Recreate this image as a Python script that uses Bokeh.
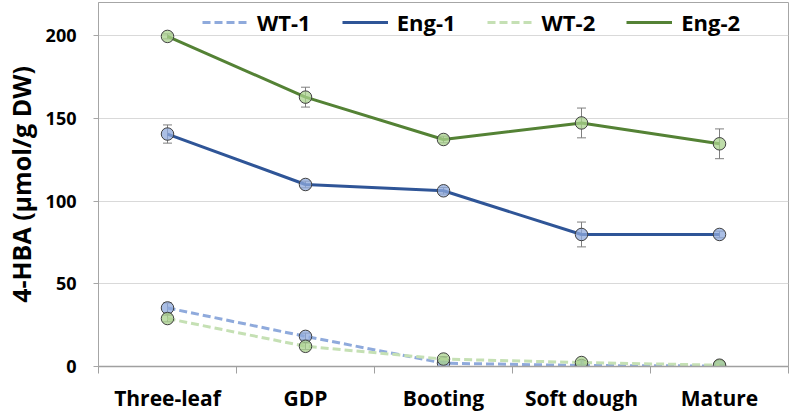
from bokeh.plotting import figure
from bokeh.models import (Range1d, FixedTicker, ColumnDataSource, Whisker, TeeHead,
                          Legend, LegendItem)
from bokeh.embed import file_html
from bokeh.resources import INLINE

stages = ["Three-leaf", "GDP", "Booting", "Soft dough", "Mature"]
wt1 = [35.4, 18.2, 2.0, 0.6, 0.3]
wt1_err = [3.0, 2.0, 1.0, 0.5, 0.3]
eng1 = [140.5, 110.0, 106.2, 79.8, 79.8]
eng1_err = [5.5, 2.0, 2.0, 7.5, 2.0]
wt2 = [29.0, 12.2, 4.5, 2.4, 0.8]
wt2_err = [2.0, 2.0, 1.5, 1.0, 0.5]
eng2 = [199.5, 162.8, 137.2, 147.2, 134.6]
eng2_err = [1.5, 6.0, 2.0, 9.0, 9.0]

y_ticks = [0, 50, 100, 150, 200]

FONT = "Open Sans"
xs = [i + 0.5 for i in range(len(stages))]

p = figure(width=790, height=414, output_backend="svg", toolbar_location=None,
           x_range=Range1d(0, len(stages)), y_range=Range1d(0, 220),
           min_border_left=96, min_border_right=2, min_border_top=2, min_border_bottom=48)
p.background_fill_color = "white"
p.border_fill_color = "white"
p.outline_line_color = "#A6A6A6"
p.outline_line_width = 1

p.xgrid.visible = False
p.ygrid.grid_line_color = "#D9D9D9"
p.ygrid.ticker = FixedTicker(ticks=y_ticks)

p.yaxis.ticker = FixedTicker(ticks=y_ticks)
p.yaxis.axis_label = "4-HBA (µmol/g DW)"
p.yaxis.axis_label_text_font = FONT
p.yaxis.axis_label_text_font_style = "bold"
p.yaxis.axis_label_text_font_size = "25px"
p.yaxis.axis_label_text_color = "black"
p.yaxis.axis_label_standoff = 5
p.yaxis.major_label_text_font = FONT
p.yaxis.major_label_text_font_style = "bold"
p.yaxis.major_label_text_font_size = "18px"
p.yaxis.major_label_text_color = "black"
p.yaxis.major_label_standoff = 17
p.yaxis.major_tick_line_color = "#A6A6A6"
p.yaxis.major_tick_in = 0
p.yaxis.major_tick_out = 5
p.yaxis.minor_tick_line_color = None
p.yaxis.axis_line_color = "#A6A6A6"

p.xaxis.ticker = FixedTicker(ticks=xs, minor_ticks=list(range(len(stages) + 1)))
p.xaxis.major_label_overrides = {x: s for x, s in zip(xs, stages)}
p.xaxis.major_label_text_font = FONT
p.xaxis.major_label_text_font_style = "bold"
p.xaxis.major_label_text_font_size = "21px"
p.xaxis.major_label_text_color = "black"
p.xaxis.major_label_standoff = 10
p.xaxis.major_tick_line_color = None
p.xaxis.minor_tick_line_color = "#A0A0A0"
p.xaxis.minor_tick_in = 0
p.xaxis.minor_tick_out = 7
p.xaxis.axis_line_color = "#A0A0A0"
p.xaxis.axis_line_width = 1.5

series = [
    ("WT-1", wt1, wt1_err, "#8FAADC", "#8FAADC", "8 4"),
    ("Eng-1", eng1, eng1_err, "#2F5597", "#8FAADC", "solid"),
    ("WT-2", wt2, wt2_err, "#C5E0B4", "#A9D18E", "8 4"),
    ("Eng-2", eng2, eng2_err, "#548235", "#A9D18E", "solid"),
]

items = []
for name, vals, errs, lc, fc, dash in series:
    src = ColumnDataSource(dict(x=xs, y=vals,
                                lo=[v - e for v, e in zip(vals, errs)],
                                hi=[v + e for v, e in zip(vals, errs)]))
    r = p.line("x", "y", source=src, line_color=lc, line_width=3, line_dash=dash)
    w = Whisker(source=src, base="x", lower="lo", upper="hi", dimension="height",
                line_color="#7F7F7F", line_width=1,
                upper_head=TeeHead(size=9, line_color="#7F7F7F", line_width=1),
                lower_head=TeeHead(size=9, line_color="#7F7F7F", line_width=1))
    p.add_layout(w)
    p.scatter("x", "y", source=src, size=12.5, marker="circle", fill_color=fc,
              fill_alpha=0.75, line_color="#404040", line_width=1)
    items.append(LegendItem(label=name, renderers=[r]))

legend = Legend(items=items, orientation="horizontal", location=(104, 329),
                label_text_font=FONT, label_text_font_style="bold",
                label_text_font_size="22px", label_text_color="black",
                glyph_width=46, glyph_height=24, label_standoff=9, spacing=31,
                padding=0, margin=0, border_line_alpha=0, background_fill_alpha=0)
p.add_layout(legend)

open("out.html", "w").write(file_html(p, INLINE))
